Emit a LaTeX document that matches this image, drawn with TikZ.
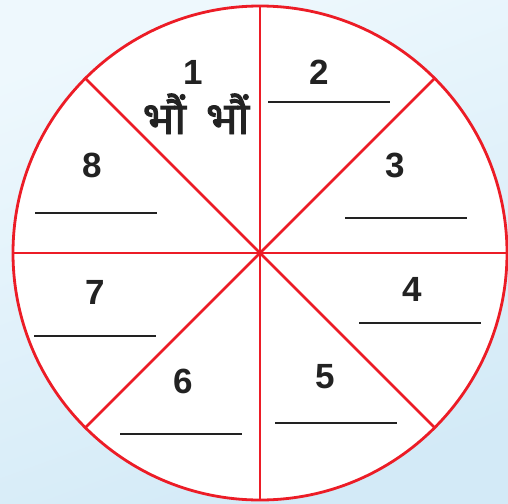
\documentclass[tikz,border=0pt]{standalone}
\usepackage{fontspec}
\setmainfont{Liberation Sans}
\newfontfamily\devfont[Script=Devanagari, FakeBold=2.2]{Noto Sans}
\definecolor{bgA}{HTML}{EEF8FD}
\definecolor{bgB}{HTML}{D3EAF7}
\definecolor{wheelred}{HTML}{EC1C26}
\definecolor{ink}{HTML}{222222}
\tikzset{
  wheel/.style={circle, draw=wheelred, line width=2.8pt, fill=white, minimum size=494pt, inner sep=0pt, outer sep=0pt},
  spoke/.style={draw=wheelred, line width=2.8pt},
  num/.style={font=\fontsize{35}{35}\selectfont\bfseries, text=ink, inner sep=0pt},
  dev/.style={font=\devfont\fontsize{45}{45}\selectfont, text=ink, inner sep=0pt, anchor=base},
  blank/.style={draw=ink, line width=2.5pt}
}
\begin{document}
\begin{tikzpicture}[x=1pt,y=-1pt]
\useasboundingbox (0,0) rectangle (508,503);
\shade[top color=bgA, bottom color=bgB, shading angle=20] (0,0) rectangle (508,503);
\node[wheel] (c) at (260,253) {};
\draw[spoke] (c.north) -- (c.south);
\draw[spoke] (c.west) -- (c.east);
\draw[spoke] (c.135) -- (c.315);
\draw[spoke] (c.45) -- (c.225);
\node[num] (n1) at (193,72) {1};
\node[dev] (w1) at (196,134) {भौं\hspace{20pt}भौं};
\node[num] (n2) at (319,72) {2};
\node[num] (n3) at (395,165) {3};
\node[num] (n4) at (412,289) {4};
\node[num] (n5) at (325,377) {5};
\node[num] (n6) at (183,381) {6};
\node[num] (n7) at (95,292) {7};
\node[num] (n8) at (92,165) {8};
\draw[blank] (268,102) -- ++(122,0);
\draw[blank] (345,218) -- ++(122,0);
\draw[blank] (359,323) -- ++(122,0);
\draw[blank] (275,423) -- ++(122,0);
\draw[blank] (120,434) -- ++(122,0);
\draw[blank] (34,336) -- ++(122,0);
\draw[blank] (35,213) -- ++(122,0);
\end{tikzpicture}
\end{document}
